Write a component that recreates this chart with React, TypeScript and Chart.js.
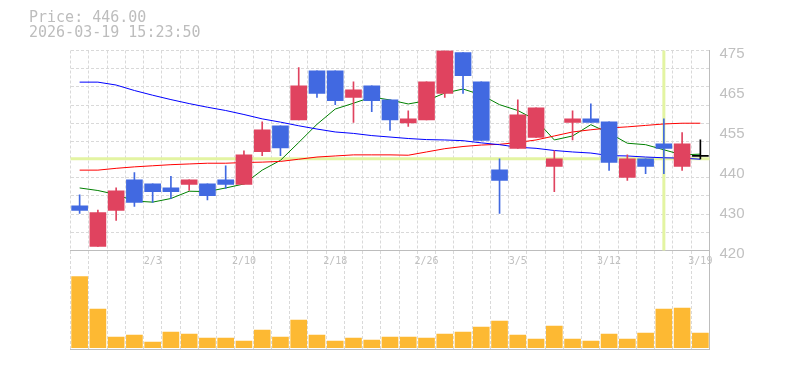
import React, { useEffect, useRef } from 'react';
import { Chart, registerables } from 'chart.js';

Chart.register(...registerables);

// ---------- data ----------
const DATES = [
  '1/28', '1/29', '1/30', '2/2', '2/3', '2/4', '2/5', '2/6', '2/9', '2/10',
  '2/12', '2/13', '2/16', '2/17', '2/18', '2/19', '2/20', '2/24', '2/25', '2/26',
  '2/27', '3/2', '3/3', '3/4', '3/5', '3/6', '3/9', '3/10', '3/11', '3/12',
  '3/13', '3/16', '3/17', '3/18', '3/19',
];
const X_TICK_LABELS = ['2/3', '2/10', '2/18', '2/26', '3/5', '3/12', '3/19'];

const OPEN = [
  432.3, 421.1, 431.0, 439.4, 438.3, 437.2, 438.2, 438.3, 439.4, 438.2,
  447.2, 454.3, 455.9, 469.4, 469.4, 462.1, 465.3, 461.4, 455.1, 455.9,
  463.2, 474.4, 466.4, 442.2, 448.1, 451.1, 443.1, 455.2, 456.2, 455.4,
  440.1, 445.2, 449.3, 443.1, 446.0,
];
const HIGH = [
  435.3, 431.1, 437.2, 441.4, 438.3, 440.4, 439.4, 438.3, 443.3, 447.4,
  455.4, 454.3, 470.3, 469.4, 469.4, 466.4, 465.3, 461.4, 458.4, 466.4,
  475.0, 474.4, 466.4, 445.2, 461.4, 459.2, 447.4, 458.4, 460.3, 455.4,
  446.3, 445.2, 456.2, 452.4, 450.4,
];
const LOW = [
  430.2, 421.1, 428.3, 432.1, 433.2, 434.3, 436.5, 433.9, 437.1, 438.2,
  446.1, 446.1, 455.9, 462.1, 460.1, 455.2, 458.2, 453.0, 454.1, 455.9,
  462.1, 463.2, 450.3, 430.2, 448.1, 451.1, 436.2, 450.4, 455.2, 442.0,
  439.3, 441.1, 441.1, 442.0, 445.2,
];
const CLOSE = [
  431.0, 430.4, 436.4, 433.2, 436.2, 436.2, 439.4, 435.1, 438.2, 446.3,
  453.2, 448.2, 465.3, 463.2, 461.2, 464.2, 461.2, 455.9, 456.2, 466.4,
  475.0, 468.1, 450.3, 439.3, 457.3, 459.2, 445.2, 456.2, 455.2, 444.2,
  445.2, 443.1, 448.1, 449.3, 446.0,
];
const VOLUME = [
  710, 387, 107, 127, 57, 157, 137, 97, 97, 67,
  177, 107, 277, 127, 67, 97, 77, 107, 107, 97,
  137, 157, 207, 267, 127, 87, 217, 87, 67, 137,
  87, 147, 387, 397, 147,
];
const MA_SHORT = [
  437.2, 436.5, 435.4, 433.6, 433.3, 434.3, 436.3, 436.2, 437.2, 438.3,
  442.1, 444.8, 449.7, 454.7, 458.9, 460.5, 462.2, 461.4, 460.3, 461.2,
  463.3, 464.4, 462.8, 460.1, 458.5, 455.9, 450.4, 451.5, 454.6, 452.3,
  449.5, 449.1, 447.7, 446.3, 446.5,
];
const MA_MID = [
  442.1, 442.1, 442.6, 443.0, 443.3, 443.6, 443.8, 444.0, 444.0, 444.2,
  444.3, 444.5, 445.1, 445.7, 446.0, 446.3, 446.3, 446.3, 446.2, 447.1,
  448.0, 448.6, 449.0, 449.2, 449.7, 450.4, 451.5, 452.6, 453.2, 453.7,
  454.0, 454.4, 454.8, 455.0, 455.0,
];
const MA_LONG = [
  466.3, 466.3, 465.5, 464.0, 462.7, 461.5, 460.4, 459.4, 458.5, 457.4,
  456.2, 455.3, 454.3, 453.4, 452.6, 452.2, 451.6, 451.2, 450.8, 450.5,
  450.4, 450.2, 449.6, 449.1, 448.4, 448.1, 447.5, 447.1, 446.8, 446.1,
  446.0, 445.7, 445.5, 445.4, 445.1,
];

const Y_TICK_VALUES = [420, 431, 442, 453, 464, 475];
const Y_TICK_LABELS = ['420', '430', '440', '455', '465', '475'];
const PRICE_MIN = 420;
const PRICE_MAX = 475;
const PRICE_GRID_STEP = 5;
const VOL_MIN = -18;
const VOL_MAX = 967;

const CROSS_INDEX = 32;
const CROSS_PRICE = 445.2;
const LAST_PRICE = '446.00';
const TIMESTAMP = '2026-03-19 15:23:50';

// ---------- styles ----------
const UP = '#E0435F';
const DOWN = '#4169E1';
const EVEN = '#000000';
const VOL_COLOR = '#FDB933';
const GRID = '#d9d9d9';
const AXIS = '#bdbdbd';
const TEXT = '#c0c0c0';
const CROSS = '#e3f4a2';
const DASH = [3, 2];

const candleColor = (i: number) =>
  CLOSE[i] > OPEN[i] ? UP : CLOSE[i] < OPEN[i] ? DOWN : EVEN;

const crosshair = {
  id: 'crosshair',
  beforeDatasetsDraw(chart: any) {
    const { ctx, chartArea: a, scales } = chart;
    const x = scales.x.getPixelForValue(CROSS_INDEX);
    const y = scales.y.getPixelForValue(CROSS_PRICE);
    ctx.save();
    ctx.strokeStyle = CROSS;
    ctx.lineWidth = 3;
    ctx.beginPath();
    ctx.moveTo(a.left, y);
    ctx.lineTo(a.right, y);
    ctx.moveTo(x, a.top);
    ctx.lineTo(x, a.bottom);
    ctx.stroke();
    ctx.restore();
  },
};

export default function App() {
  const priceRef = useRef<HTMLCanvasElement>(null);
  const volRef = useRef<HTMLCanvasElement>(null);

  useEffect(() => {
    const colors = DATES.map((_, i) => candleColor(i));
    const bodies = OPEN.map((o, i) =>
      o === CLOSE[i] ? [o - 0.15, o + 0.15] : [o, CLOSE[i]]
    );
    const wicks = LOW.map((l, i) => [l, HIGH[i]]);

    const line = (data: number[], color: string) => ({
      type: 'line' as const,
      data,
      borderColor: color,
      borderWidth: 1,
      pointRadius: 0,
      tension: 0,
      fill: false,
      order: 3,
    });

    const priceChart = new Chart(priceRef.current!, {
      type: 'bar',
      data: {
        labels: DATES,
        datasets: [
          line(MA_LONG, '#0000ff'),
          line(MA_MID, '#ff0000'),
          line(MA_SHORT, '#008000'),
          {
            type: 'bar',
            data: wicks as any,
            backgroundColor: colors,
            barThickness: 1,
            grouped: false,
            order: 2,
          } as any,
          {
            type: 'bar',
            data: bodies as any,
            backgroundColor: colors,
            barThickness: 16,
            grouped: false,
            order: 1,
          } as any,
        ],
      },
      options: {
        animation: false,
        responsive: false,
        events: [],
        layout: { padding: { left: 70.5, top: 50.5, right: 0, bottom: 0 } },
        plugins: { legend: { display: false }, tooltip: { enabled: false } },
        scales: {
          x: {
            type: 'category',
            offset: true,
            grid: { offset: true, color: GRID, drawTicks: false },
            border: { display: true, color: AXIS, dash: DASH },
            ticks: {
              autoSkip: false,
              maxRotation: 0,
              padding: 5,
              color: TEXT,
              font: { family: 'DejaVu Sans Mono', size: 10 },
              callback: (v: any) =>
                X_TICK_LABELS.includes(DATES[v]) ? DATES[v] : '',
            },
            afterFit: (s: any) => {
              s.height = 19.5;
            },
          },
          yg: {
            type: 'linear',
            position: 'left',
            min: PRICE_MIN,
            max: PRICE_MAX,
            ticks: { display: false, stepSize: PRICE_GRID_STEP },
            grid: { color: GRID, drawTicks: false },
            border: { display: false, dash: DASH },
            afterFit: (s: any) => {
              s.width = 0;
            },
          },
          y: {
            type: 'linear',
            position: 'right',
            min: PRICE_MIN,
            max: PRICE_MAX,
            afterBuildTicks: (s: any) => {
              s.ticks = Y_TICK_VALUES.map((v) => ({ value: v }));
            },
            ticks: {
              color: TEXT,
              padding: 10,
              labelOffset: 3,
              font: { family: 'Liberation Sans', size: 15 },
              callback: (v: any) => Y_TICK_LABELS[Y_TICK_VALUES.indexOf(v)],
            },
            grid: { display: false, drawTicks: false },
            border: { display: true, color: AXIS },
            afterFit: (s: any) => {
              s.width = 75.5;
            },
          },
        },
      } as any,
      plugins: [crosshair],
    });

    const volChart = new Chart(volRef.current!, {
      type: 'bar',
      data: {
        labels: DATES,
        datasets: [
          {
            data: VOLUME,
            backgroundColor: VOL_COLOR,
            barThickness: 16,
          },
        ],
      },
      options: {
        animation: false,
        responsive: false,
        events: [],
        layout: { padding: { left: 70.5, top: 6, right: 0, bottom: 20.5 } },
        plugins: { legend: { display: false }, tooltip: { enabled: false } },
        scales: {
          x: {
            type: 'category',
            offset: true,
            grid: { offset: true, color: GRID, drawTicks: false },
            border: { display: true, color: AXIS, dash: DASH },
            ticks: { display: false },
            afterFit: (s: any) => {
              s.height = 0;
            },
          },
          y: {
            type: 'linear',
            position: 'right',
            min: VOL_MIN,
            max: VOL_MAX,
            ticks: { display: false },
            grid: { display: false, drawTicks: false },
            border: { display: true, color: AXIS },
            afterFit: (s: any) => {
              s.width = 75.5;
            },
          },
        },
      } as any,
    });

    return () => {
      priceChart.destroy();
      volChart.destroy();
    };
  }, []);

  const textStyle: React.CSSProperties = {
    position: 'absolute',
    left: 29,
    fontFamily: 'DejaVu Sans Mono',
    fontSize: 15,
    lineHeight: '15px',
    color: '#bdbdbd',
    whiteSpace: 'pre',
  };

  return (
    <div
      style={{
        position: 'fixed',
        left: 0,
        top: 0,
        width: 785,
        height: 370,
        background: '#ffffff',
      }}
    >
      <canvas
        ref={volRef}
        width={785}
        height={125}
        style={{ position: 'absolute', left: 0, top: 245 }}
      />
      <canvas
        ref={priceRef}
        width={785}
        height={270}
        style={{ position: 'absolute', left: 0, top: 0 }}
      />
      <div style={{ ...textStyle, top: 10 }}>{`Price: ${LAST_PRICE}`}</div>
      <div style={{ ...textStyle, top: 25 }}>{TIMESTAMP}</div>
    </div>
  );
}
